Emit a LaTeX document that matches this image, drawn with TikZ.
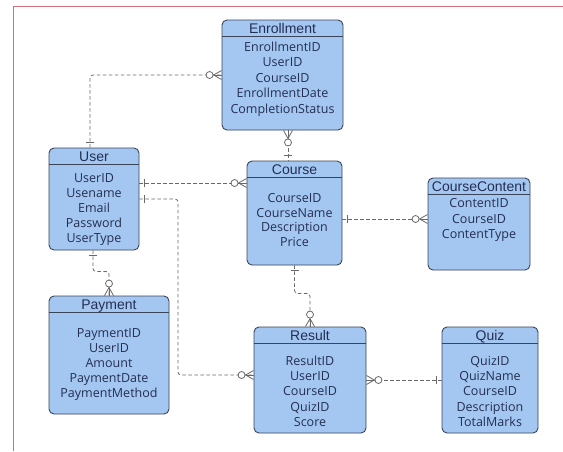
\documentclass[tikz,border=0pt]{standalone}
\usepackage{fontspec}
\setmainfont{Open Sans}
\newfontfamily\hdfont{Liberation Sans}
\usetikzlibrary{calc}

\definecolor{boxfill}{RGB}{164,199,241}
\definecolor{boxline}{RGB}{58,68,88}
\definecolor{txt}{RGB}{36,46,82}
\definecolor{link}{RGB}{105,105,105}
\definecolor{framecol}{RGB}{204,112,124}

\tikzset{
  entity/.style={draw=boxline, fill=boxfill, rounded corners=5pt, line width=0.9pt, inner sep=0pt},
  divider/.style={draw=boxline, line width=0.9pt},
  hd/.style={font=\hdfont\fontsize{14}{16}\selectfont, text=txt, inner sep=0pt},
  fld/.style={font=\fontsize{12.5}{15}\selectfont, text=txt, inner sep=0pt},
  conn/.style={draw=link, line width=0.8pt, dash pattern=on 3.5pt off 2.5pt, rounded corners=3pt},
  endmark/.style={draw=link, line width=0.8pt, solid},
  onebar/.pic={\draw[endmark] (5pt,-4pt) -- (5pt,4pt);},
  zeromany/.pic={
    \draw[endmark] (0pt,4.5pt) -- (8pt,0pt) -- (0pt,-4.5pt);
    \draw[endmark] (0pt,0pt) -- (8pt,0pt);
    \draw[endmark, fill=white] (12pt,0pt) circle[radius=3.5pt];
  }
}

% entity box: name, centre x, centre y, width, height, title, first baseline, line step, fields
\newcommand\erbox[9]{%
  \node[entity, minimum width=#4pt, minimum height=#5pt] (#1) at (#2,#3) {};
  \draw[divider] ([yshift=-17pt]#1.north west) -- ([yshift=-17pt]#1.north east);
  \node[hd, anchor=base] (#1-title) at ([yshift=-13.5pt]#1.north) {#6};
  \foreach \f [count=\i from 0] in {#9}
    \node[fld, anchor=base] (#1-f\i) at (#2,{#7+\i*#8}) {\f};
}

\begin{document}
\begin{tikzpicture}[x=1pt,y=-1pt]
\useasboundingbox (0,0) rectangle (563,451);
\fill[white] (0,0) rectangle (563,451);
\draw[framecol, line width=1pt] (13,451) -- (13,6) -- (563,6);

% entities
\erbox{enr}{282.5}{75}{121}{110}{Enrollment}{51.5}{15.4}{EnrollmentID,UserID,CourseID,EnrollmentDate,CompletionStatus}
\erbox{user}{94}{199}{90}{102}{User}{182.5}{15}{UserID,Usename,Email,Password,UserType}
\erbox{course}{294.5}{213}{95}{104}{Course}{202.5}{14.7}{CourseID,CourseName,Description,Price}
\erbox{cc}{479}{224}{102}{92}{CourseContent}{207.5}{15.5}{ContentID,CourseID,ContentType}
\erbox{pay}{109}{355}{120}{118}{Payment}{337.5}{15}{PaymentID,UserID,Amount,PaymentDate,PaymentMethod}
\erbox{res}{310}{380}{112}{106}{Result}{365.5}{15.2}{ResultID,UserID,CourseID,QuizID,Score}
\erbox{quiz}{490}{380}{96}{106}{Quiz}{365.5}{15.2}{QuizID,QuizName,CourseID,Description,TotalMarks}

% User -- Enrollment
\coordinate (u1) at ([xshift=-4pt]user.north);
\draw[conn] (u1) |- (enr.west);
\pic[rotate=90] at (u1) {onebar};
\pic[rotate=180] at (enr.west) {zeromany};

% Enrollment -- Course
\coordinate (c1) at ([xshift=-6.5pt]course.north);
\coordinate (e1) at (c1 |- enr.south);
\draw[conn] (e1) -- (c1);
\pic[rotate=-90] at (e1) {zeromany};
\pic[rotate=90] at (c1) {onebar};

% User -- Course
\coordinate (u2) at ([yshift=16pt]user.east);
\coordinate (c2) at (u2 -| course.west);
\draw[conn] (u2) -- (c2);
\pic at (u2) {onebar};
\pic[rotate=180] at (c2) {zeromany};

% User -- Result
\coordinate (lane) at (178,0);
\coordinate (r1) at ([yshift=5pt]res.west);
\draw[conn] (user.east) -- (user.east -| lane) -- (lane |- r1) -- (r1);
\pic at (user.east) {onebar};
\pic[rotate=180] at (r1) {zeromany};

% User -- Payment
\coordinate (u3) at ([xshift=-1pt]user.south);
\draw[conn] (u3) -- ++(0,21) -| (pay.north);
\pic[rotate=-90] at (u3) {onebar};
\pic[rotate=90] at (pay.north) {zeromany};

% Course -- Result
\draw[conn] (course.south) -- ++(0,28) -| (res.north);
\pic[rotate=-90] at (course.south) {onebar};
\pic[rotate=90] at (res.north) {zeromany};

% Course -- CourseContent
\coordinate (c3) at ([yshift=-6pt]course.east);
\coordinate (k1) at (c3 -| cc.west);
\draw[conn] (c3) -- (k1);
\pic at (c3) {onebar};
\pic[rotate=180] at (k1) {zeromany};

% Result -- Quiz
\draw[conn] (res.east) -- (quiz.west);
\pic at (res.east) {zeromany};
\pic[rotate=180] at (quiz.west) {onebar};
\end{tikzpicture}
\end{document}
